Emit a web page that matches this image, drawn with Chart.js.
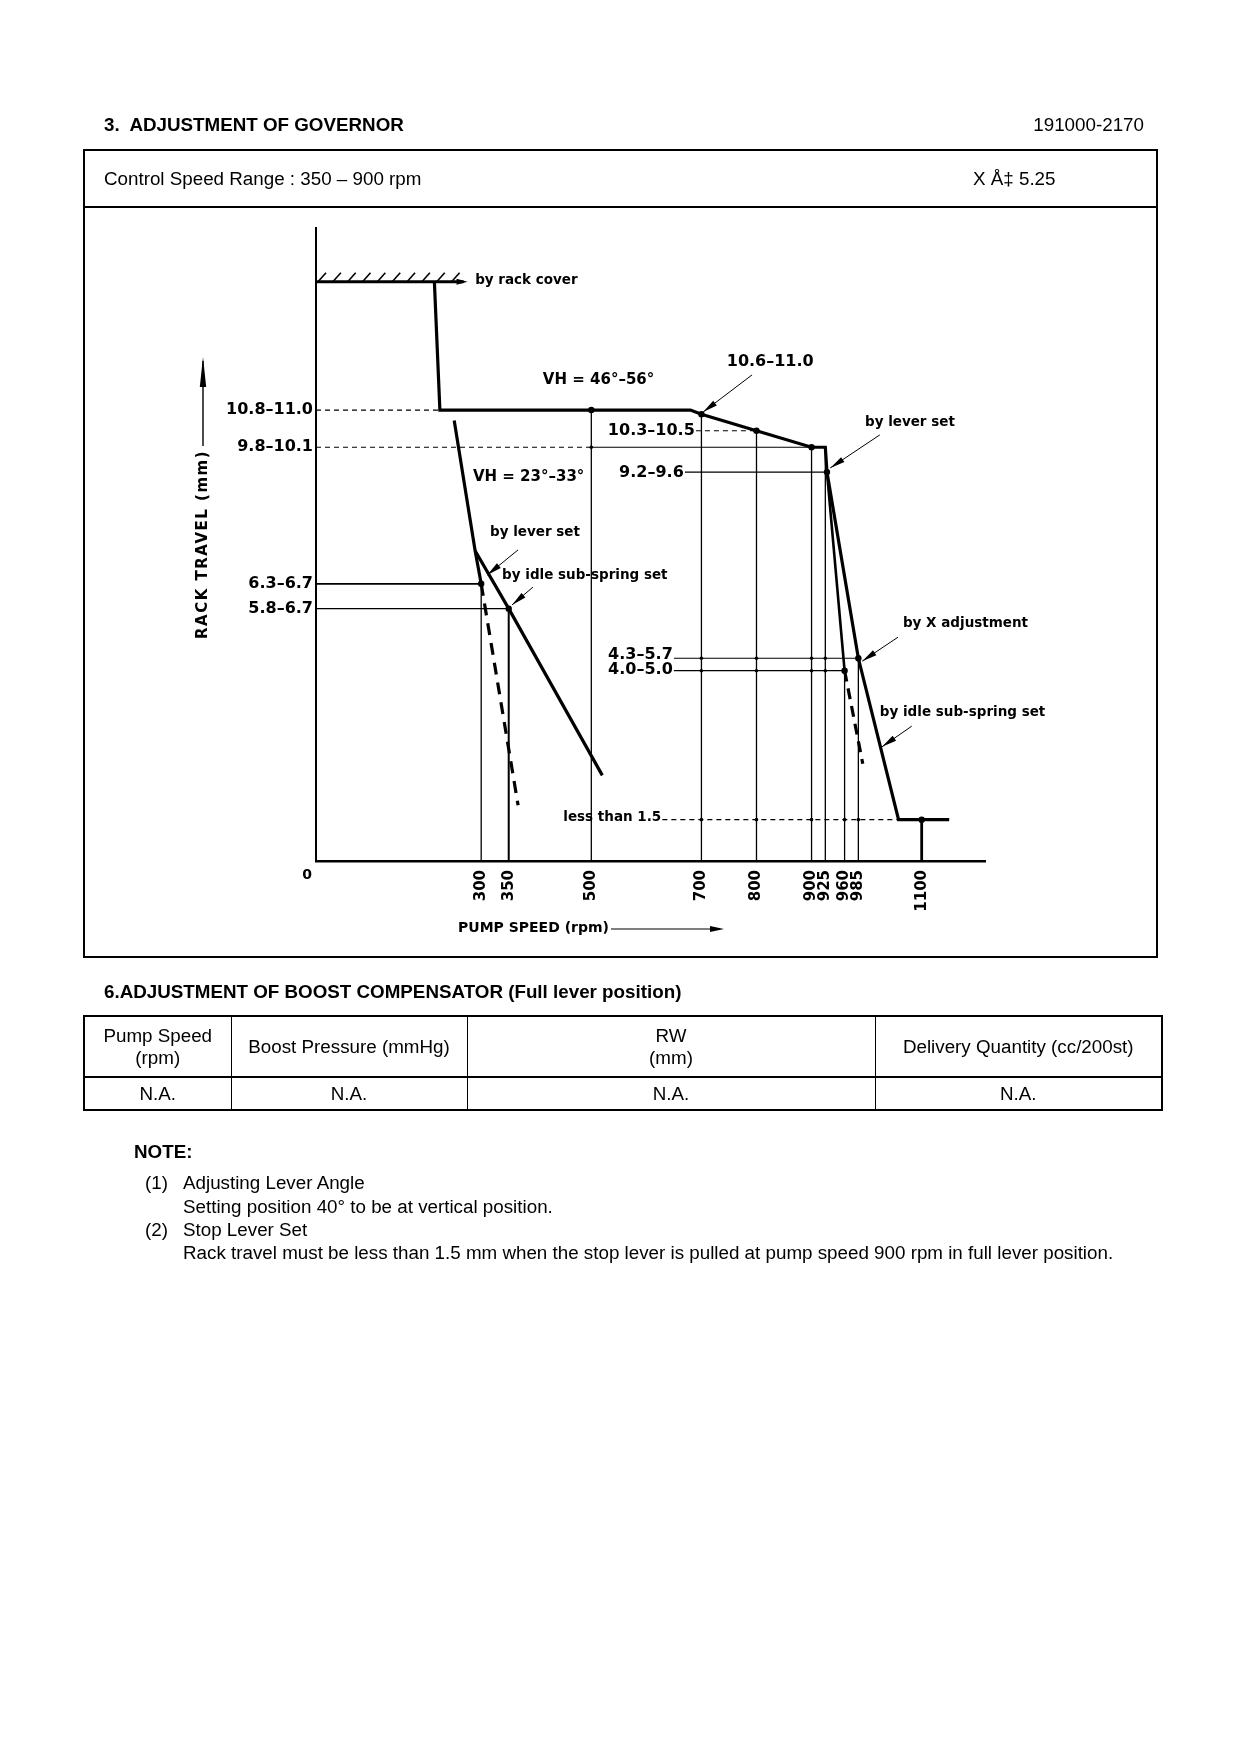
<!DOCTYPE html>
<html lang="en">
<head>
<meta charset="UTF-8">
<title>Adjustment of governor 191000-2170</title>
<script src="https://cdn.jsdelivr.net/npm/chart.js"></script>
<style>
  body { margin: 0; background: #fff; }
  #page { position: relative; width: 1240px; height: 1754px; overflow: hidden;
          font-family: "Liberation Sans", Arial, sans-serif; font-size: 18.8px; color: #000; }
  #chart { position: absolute; left: 0; top: 0; }
  .t { position: absolute; line-height: 24px; white-space: nowrap; }
  .b { font-weight: bold; }
  #box { position: absolute; left: 83px; top: 149px; width: 1071px; height: 805px; border: 2px solid #000; }
  #divider { position: absolute; left: 83px; top: 206px; width: 1075px; border-top: 2px solid #000; }
  #boost { position: absolute; left: 83px; top: 1015px; width: 1078px; border-collapse: collapse;
           table-layout: fixed; border: 2.5px solid #000; }
  #boost td { border-left: 1.5px solid #000; text-align: center; padding: 0; line-height: 22px; }
  #boost tr.head td { height: 59px; border-bottom: 2px solid #000; }
  #boost tr.row td { height: 31px; }
</style>
</head>
<body>
<div id="page">
  <canvas id="chart" width="1240" height="1754"></canvas>

  <div class="t b" style="left:104px; top:113px">3.&nbsp; ADJUSTMENT OF GOVERNOR</div>
  <div class="t" style="right:96px; top:113px">191000-2170</div>

  <div id="box"></div>
  <div id="divider"></div>
  <div class="t" style="left:104px; top:167px">Control Speed Range : 350 – 900 rpm</div>
  <div class="t" style="left:973px; top:167px">X Å‡ 5.25</div>

  <div class="t b" style="left:104px; top:980px">6.ADJUSTMENT OF BOOST COMPENSATOR (Full lever position)</div>
  <table id="boost">
    <colgroup><col style="width:147px"><col style="width:236px"><col style="width:408px"><col style="width:287px"></colgroup>
    <tr class="head"><td>Pump Speed<br>(rpm)</td><td>Boost Pressure (mmHg)</td><td>RW<br>(mm)</td><td>Delivery Quantity (cc/200st)</td></tr>
    <tr class="row"><td>N.A.</td><td>N.A.</td><td>N.A.</td><td>N.A.</td></tr>
  </table>

  <div class="t b" style="left:134px; top:1140px">NOTE:</div>
  <div class="t" style="left:145px; top:1171px">(1)</div>
  <div class="t" style="left:183px; top:1171px">Adjusting Lever Angle</div>
  <div class="t" style="left:183px; top:1195px">Setting position 40° to be at vertical position.</div>
  <div class="t" style="left:145px; top:1218px">(2)</div>
  <div class="t" style="left:183px; top:1218px">Stop Lever Set</div>
  <div class="t" style="left:183px; top:1241px">Rack travel must be less than 1.5 mm when the stop lever is pulled at pump speed 900 rpm in full lever position.</div>
</div>

<script>
// axis ticks
const xTickValues = [300, 350, 500, 700, 800, 900, 925, 960, 985, 1100];
const yTickValues = [10.9, 10.0, 6.7, 6.1];
const yTickLabels = ['10.8–11.0', '9.8–10.1', '6.3–6.7', '5.8–6.7'];

// curves: pump speed (rpm) / rack travel (mm)
const rackCoverRpm = [0, 268];
const rackCoverMm = [14.0, 14.0];
const fullLoadRpm = [215, 225, 680, 700, 800, 900, 925, 928, 985, 1058, 1150];
const fullLoadMm = [14.0, 10.9, 10.9, 10.8, 10.4, 10.0, 10.0, 9.4, 4.9, 1.0, 1.0];
const leverBranchRpm = [928, 960];
const leverBranchMm = [9.4, 4.6];
const stopDashRpm = [960, 993];
const stopDashMm = [4.6, 2.35];
const idleRpm = [251, 289, 300];
const idleMm = [10.65, 7.5, 6.7];
const idleDashRpm = [300, 367];
const idleDashMm = [6.7, 1.35];
const subSpringRpm = [289, 350, 520];
const subSpringMm = [7.5, 6.1, 2.07];

// reference lines
const hGuideMm = [10.9, 10.0, 10.0, 10.4, 9.4, 6.7, 6.1, 4.9, 4.6, 1.0];
const hGuideFrom = [0, 0, 500, 690, 670, 0, 0, 650, 650, 629];
const hGuideTo = [225, 500, 900, 800, 928, 300, 350, 985, 960, 1058];
const vGuideRpm = [300, 350, 500, 700, 800, 900, 925, 960, 985, 1100];
const vGuideTop = [6.7, 6.1, 10.9, 10.8, 10.4, 10.0, 10.0, 4.6, 4.9, 1.0];

// set points and small crossings
const markRpm = [500, 700, 800, 900, 928, 300, 350, 960, 985, 1100];
const markMm = [10.9, 10.8, 10.4, 10.0, 9.4, 6.7, 6.1, 4.6, 4.9, 1.0];
const crossRpm = [500, 700, 800, 900, 925, 700, 800, 900, 925, 700, 800, 900, 960, 985];
const crossMm = [10.0, 4.9, 4.9, 4.9, 4.9, 4.6, 4.6, 4.6, 4.6, 1.0, 1.0, 1.0, 1.0, 1.0];

// texts inside the figure
const notes = [
  { text: 'by rack cover', rpm: 289, mm: 14.02 },
  { text: 'VH = 46°–56°', rpm: 412, mm: 11.63, big: true },
  { text: 'VH = 23°–33°', rpm: 285, mm: 9.28, big: true },
  { text: '10.6–11.0', rpm: 746, mm: 12.06, range: true },
  { text: '10.3–10.5', rpm: 688, mm: 10.39, range: true, right: true },
  { text: '9.2–9.6', rpm: 668, mm: 9.38, range: true, right: true },
  { text: '4.3–5.7', rpm: 648, mm: 4.98, range: true, right: true },
  { text: '4.0–5.0', rpm: 648, mm: 4.62, range: true, right: true },
  { text: 'less than 1.5', rpm: 627, mm: 1.04, small: true, right: true },
  { text: 'by lever set', rpm: 997, mm: 10.59 },
  { text: 'by lever set', rpm: 316, mm: 7.93 },
  { text: 'by idle sub-spring set', rpm: 338, mm: 6.89 },
  { text: 'by X adjustment', rpm: 1066, mm: 5.73 },
  { text: 'by idle sub-spring set', rpm: 1024, mm: 3.6 }
];
const leaders = [
  [792, 11.75, 703, 10.85],
  [1024, 10.3, 934, 9.5],
  [1057, 5.41, 992, 4.83],
  [1082, 3.26, 1028, 2.76],
  [367, 7.52, 311, 6.91],
  [394, 6.62, 356, 6.19]
];

const pts = (rpm, mm) => rpm.map((r, i) => ({ x: r, y: mm[i] }));

const datasets = [
  { data: pts(rackCoverRpm, rackCoverMm), borderWidth: 3 },
  { data: pts(fullLoadRpm, fullLoadMm), borderWidth: 3.2 },
  { data: pts(leverBranchRpm, leverBranchMm), borderWidth: 2.6 },
  { data: pts(stopDashRpm, stopDashMm), borderWidth: 3.2, borderDash: [11, 7] },
  { data: pts(idleRpm, idleMm), borderWidth: 3.2 },
  { data: pts(idleDashRpm, idleDashMm), borderWidth: 3.2, borderDash: [12, 8] },
  { data: pts(subSpringRpm, subSpringMm), borderWidth: 3.2 }
];
const dottedH = [0, 1, 3, 9];
hGuideMm.forEach((m, i) => {
  datasets.push({
    data: [{ x: hGuideFrom[i], y: m }, { x: hGuideTo[i], y: m }],
    borderWidth: i === 5 ? 1.8 : 1.2,
    borderDash: dottedH.includes(i) ? [5, 4] : []
  });
});
vGuideRpm.forEach((r, i) => {
  datasets.push({
    data: [{ x: r, y: 0 }, { x: r, y: vGuideTop[i] }],
    borderWidth: r === 1100 ? 2.8 : (r === 350 ? 2 : 1.3)
  });
});
datasets.forEach(d => Object.assign(d, {
  showLine: true, pointRadius: 0, borderColor: '#000', backgroundColor: '#000', tension: 0
}));
datasets.push({ data: pts(markRpm, markMm), showLine: false, pointRadius: 3.2, pointBorderWidth: 0, pointBackgroundColor: '#000' });
datasets.push({ data: pts(crossRpm, crossMm), showLine: false, pointRadius: 1.8, pointBorderWidth: 0, pointBackgroundColor: '#000' });

function arrowHead(ctx, x1, y1, x2, y2, len, half) {
  const a = Math.atan2(y2 - y1, x2 - x1);
  ctx.beginPath();
  ctx.moveTo(x2, y2);
  ctx.lineTo(x2 - len * Math.cos(a) + half * Math.sin(a), y2 - len * Math.sin(a) - half * Math.cos(a));
  ctx.lineTo(x2 - len * Math.cos(a) - half * Math.sin(a), y2 - len * Math.sin(a) + half * Math.cos(a));
  ctx.closePath();
  ctx.fill();
}

const figurePlugin = {
  id: 'figure',
  afterDraw(chart) {
    const { ctx, chartArea: a, scales: { x, y } } = chart;
    const P = (r, m) => [x.getPixelForValue(r), y.getPixelForValue(m)];
    ctx.save();
    ctx.fillStyle = '#000';
    ctx.strokeStyle = '#000';

    // hatching of the rack cover stop
    const [hx0, hy] = P(rackCoverRpm[0], rackCoverMm[0]);
    const [hx1] = P(rackCoverRpm[1], rackCoverMm[1]);
    ctx.lineWidth = 1.6;
    for (let i = 0; i < 10; i++) {
      const hx = hx0 + 2 + i * (hx1 - hx0 - 14) / 9;
      ctx.beginPath();
      ctx.moveTo(hx, hy);
      ctx.lineTo(hx + 8, hy - 9);
      ctx.stroke();
    }
    arrowHead(ctx, hx0, hy, hx1 + 4, hy, 11, 3);

    // leaders with arrow heads
    ctx.lineWidth = 1;
    leaders.forEach(([r1, m1, r2, m2]) => {
      const [x1, y1] = P(r1, m1);
      const [x2, y2] = P(r2, m2);
      ctx.beginPath();
      ctx.moveTo(x1, y1);
      ctx.lineTo(x2, y2);
      ctx.stroke();
      arrowHead(ctx, x1, y1, x2, y2, 15, 3);
    });

    // annotation texts
    ctx.textBaseline = 'middle';
    notes.forEach(n => {
      const [tx, ty] = P(n.rpm, n.mm);
      ctx.font = n.range ? 'bold 16px "DejaVu Sans"' : n.small ? 'bold 13.5px "DejaVu Sans"'
        : n.big ? 'bold 15px "DejaVu Sans"' : 'bold 13.5px "DejaVu Sans"';
      ctx.textAlign = n.right ? 'right' : 'left';
      ctx.fillText(n.text, tx, ty);
    });

    // origin
    ctx.font = 'bold 14px "DejaVu Sans"';
    ctx.textAlign = 'center';
    ctx.fillText('0', a.left - 9, a.bottom + 14);

    // x axis title with arrow
    ctx.font = 'bold 14px "DejaVu Sans"';
    ctx.textAlign = 'left';
    const xt = 'PUMP SPEED (rpm)';
    const tx0 = a.left + 142, ty0 = a.bottom + 67;
    const tw = ctx.measureText(xt).width;
    ctx.fillText(xt, tx0, ty0);
    ctx.lineWidth = 1.2;
    ctx.beginPath();
    ctx.moveTo(tx0 + tw + 2, ty0 + 1);
    ctx.lineTo(tx0 + 262, ty0 + 1);
    ctx.stroke();
    arrowHead(ctx, tx0 + tw, ty0 + 1, tx0 + 266, ty0 + 1, 14, 3);

    // y axis title with arrow
    ctx.save();
    ctx.translate(a.left - 113, a.bottom - 222);
    ctx.rotate(-Math.PI / 2);
    ctx.font = 'bold 15px "DejaVu Sans"';
    ctx.letterSpacing = '1.5px';
    const yt = 'RACK TRAVEL (mm)';
    const yw = ctx.measureText(yt).width;
    ctx.fillText(yt, 0, 0);
    ctx.lineWidth = 1.4;
    ctx.beginPath();
    ctx.moveTo(yw + 4, 0);
    ctx.lineTo(278, 0);
    ctx.stroke();
    arrowHead(ctx, yw, 0, 282, 0, 30, 3.2);
    ctx.restore();

    ctx.restore();
  }
};

new Chart(document.getElementById('chart'), {
  type: 'scatter',
  data: { datasets },
  options: {
    responsive: false,
    animation: false,
    events: [],
    layout: { padding: { top: 228, right: 255, left: 0, bottom: 0 } },
    plugins: { legend: { display: false }, tooltip: { enabled: false } },
    scales: {
      x: {
        type: 'linear', min: 0, max: 1215,
        grid: { display: false, drawTicks: false },
        border: { display: true, color: '#000', width: 2.6 },
        afterBuildTicks: s => { s.ticks = xTickValues.map(v => ({ value: v })); },
        afterFit: s => { s.height = 1754 - 861; },
        ticks: {
          autoSkip: false, minRotation: 90, maxRotation: 90, padding: 9, color: '#000',
          font: { family: 'DejaVu Sans', size: 15, weight: 'bold' },
          callback: v => String(v)
        }
      },
      y: {
        type: 'linear', min: 0, max: 15.3,
        grid: { display: false, drawTicks: false },
        border: { display: true, color: '#000', width: 2 },
        afterBuildTicks: s => { s.ticks = yTickValues.map(v => ({ value: v })); },
        afterFit: s => { s.width = 316; },
        ticks: {
          autoSkip: false, padding: 3, color: '#000',
          font: { family: 'DejaVu Sans', size: 16, weight: 'bold' },
          callback: v => yTickLabels[yTickValues.indexOf(v)]
        }
      }
    }
  },
  plugins: [figurePlugin]
});
</script>
</body>
</html>
